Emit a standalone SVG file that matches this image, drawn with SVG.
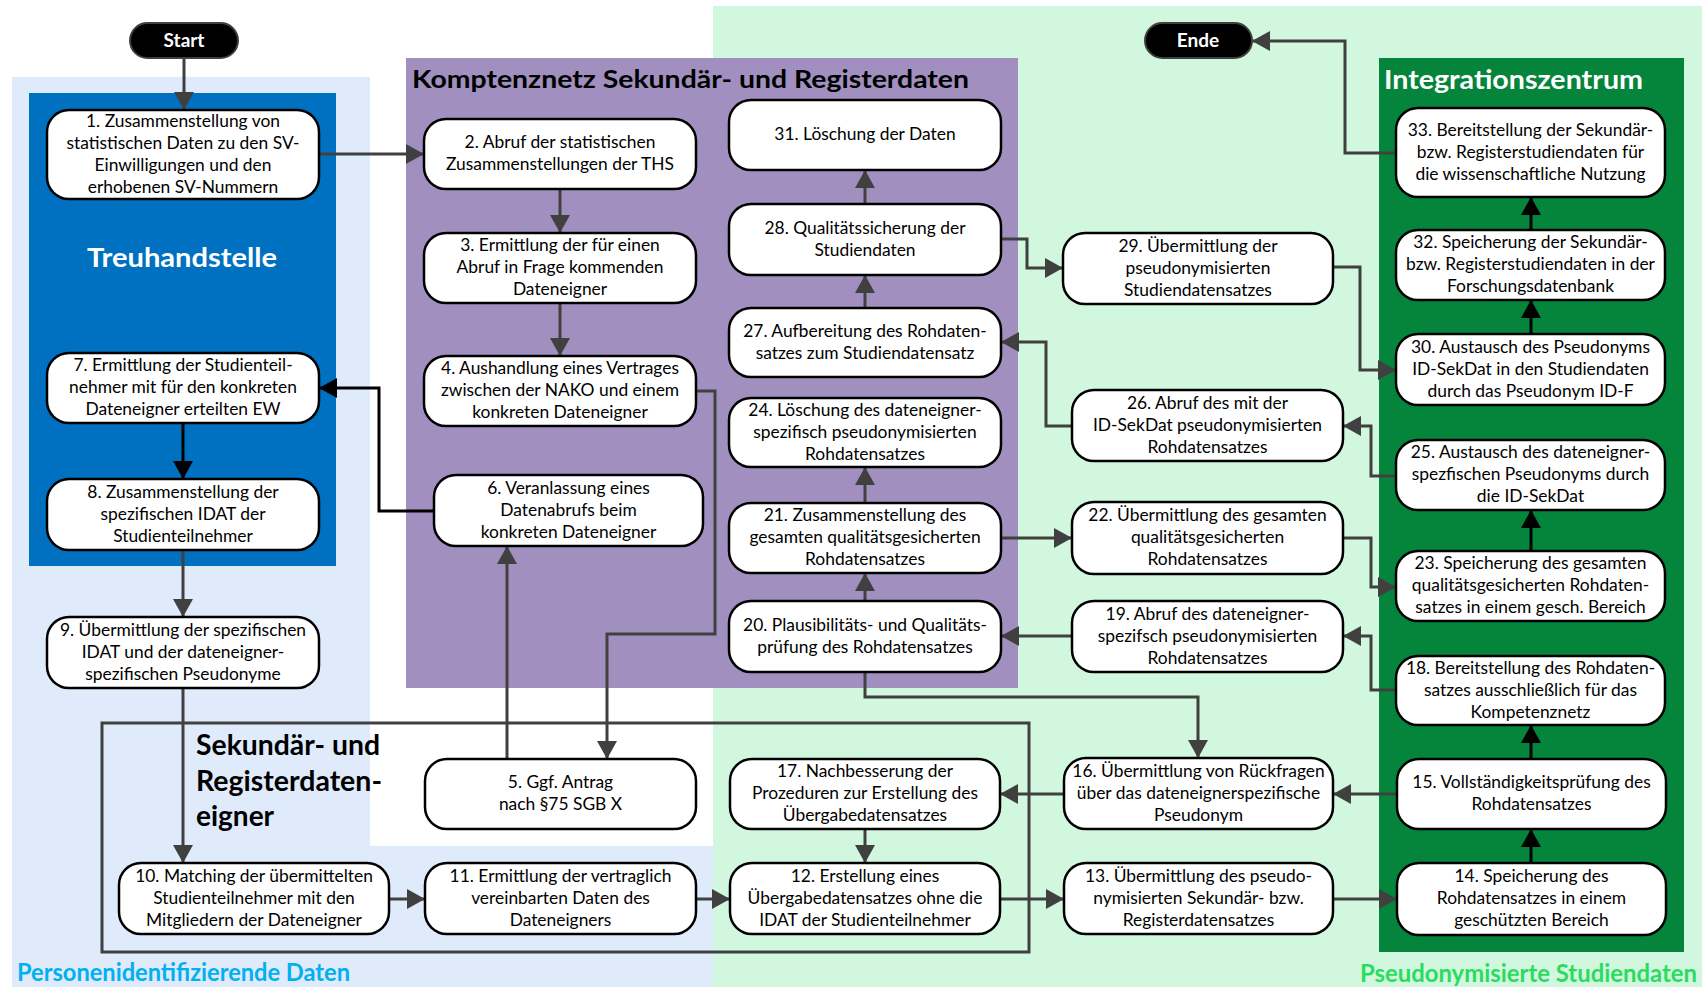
<svg xmlns="http://www.w3.org/2000/svg" width="1702" height="987" viewBox="0 0 1702 987">
<defs>
<style>
.node rect{fill:#fff;stroke:#000;stroke-width:2.5}
.node text{font-family:Lato,"Liberation Sans",sans-serif;font-size:17.4px;text-anchor:middle;fill:#000}
.pill rect{fill:#000;stroke:#404040;stroke-width:2}
.pill text{font-family:Lato,"Liberation Sans",sans-serif;font-size:19px;font-weight:bold;text-anchor:middle;fill:#fff}
.c{fill:none;stroke:#404040;stroke-width:3;marker-end:url(#ag)}
.cb{fill:none;stroke:#000;stroke-width:3;marker-end:url(#ab)}
.title{font-family:Lato,"Liberation Sans",sans-serif;font-weight:bold}
</style>
<marker id="ag" markerUnits="userSpaceOnUse" markerWidth="18" markerHeight="20" refX="18" refY="10" orient="auto"><path d="M0,0 L18,10 L0,20 z" fill="#404040"/></marker>
<marker id="ab" markerUnits="userSpaceOnUse" markerWidth="18" markerHeight="20" refX="18" refY="10" orient="auto"><path d="M0,0 L18,10 L0,20 z" fill="#000"/></marker>
</defs>
<rect x="0" y="0" width="1702" height="987" fill="#fff"/>
<g id="backgrounds">
<path d="M12,77 H370 V846 H713 V987 H12 Z" fill="#DFEAFB"/>
<rect x="713" y="6" width="989" height="981" fill="#D2F7DF"/>
<rect x="406" y="58" width="612" height="630" fill="#A190BF"/>
<rect x="29" y="93" width="307" height="473" fill="#0070C0"/>
<rect x="1379" y="58" width="305" height="894" fill="#05843C"/>
<rect x="102" y="723" width="927" height="229" fill="none" stroke="#404040" stroke-width="3"/>
</g>
<g id="labels">
<text class="title" x="412" y="88" font-size="25" fill="#000" textLength="557" lengthAdjust="spacingAndGlyphs">Komptenznetz Sekundär- und Registerdaten</text>
<text class="title" x="87" y="267" font-size="26" fill="#fff" textLength="190" lengthAdjust="spacingAndGlyphs">Treuhandstelle</text>
<text class="title" x="1384" y="89" font-size="26" fill="#fff" textLength="259" lengthAdjust="spacingAndGlyphs">Integrationszentrum</text>
<text class="title" x="196" y="755" font-size="28" fill="#000" textLength="184" lengthAdjust="spacingAndGlyphs">Sekundär- und</text>
<text class="title" x="196" y="791" font-size="28" fill="#000" textLength="186" lengthAdjust="spacingAndGlyphs">Registerdaten-</text>
<text class="title" x="196" y="826" font-size="28" fill="#000">eigner</text>
<text class="title" x="17" y="981" font-size="24" fill="#00B0F0" textLength="333" lengthAdjust="spacingAndGlyphs">Personenidentifizierende Daten</text>
<text class="title" x="1360" y="982" font-size="24" fill="#2BDB5F" textLength="337" lengthAdjust="spacingAndGlyphs">Pseudonymisierte Studiendaten</text>
</g>
<g id="connectors">
<path class="c" d="M184,58 V110"/>
<path class="c" d="M319,154 H424"/>
<path class="c" d="M560,189 V233"/>
<path class="c" d="M560,303 V356"/>
<path class="c" d="M696,391 H715 V634 H607 V759"/>
<path class="c" d="M507,759 V546"/>
<path class="cb" d="M434,511 H379 V388 H319"/>
<path class="cb" d="M183,423 V479"/>
<path class="c" d="M183,550 V617"/>
<path class="c" d="M183,688 V863"/>
<path class="c" d="M389,899 H425"/>
<path class="c" d="M696,899 H730"/>
<path class="c" d="M1000,899 H1064"/>
<path class="c" d="M1333,899 H1397"/>
<path class="cb" d="M1531,863 V829"/>
<path class="cb" d="M1531,759 V725"/>
<path class="c" d="M1397,794 H1333"/>
<path class="c" d="M1064,794 H1000"/>
<path class="c" d="M865,829 V863"/>
<path class="c" d="M1396,690 H1371 V636 H1343"/>
<path class="c" d="M1072,636 H1001"/>
<path class="c" d="M865,672 V697 H1198 V758"/>
<path class="c" d="M865,601 V573"/>
<path class="c" d="M865,503 V467"/>
<path class="c" d="M1001,538 H1072"/>
<path class="c" d="M1343,538 H1371 V587 H1396"/>
<path class="cb" d="M1531,551 V510"/>
<path class="c" d="M1396,476 H1371 V426 H1343"/>
<path class="c" d="M1072,426 H1046 V342 H1001"/>
<path class="c" d="M865,308 V275"/>
<path class="c" d="M865,204 V170"/>
<path class="c" d="M1001,239 H1027 V268 H1063"/>
<path class="c" d="M1333,267 H1360 V370 H1396"/>
<path class="cb" d="M1531,334 V300"/>
<path class="cb" d="M1531,230 V197"/>
<path class="c" d="M1396,153 H1345 V41 H1252"/>
</g>
<g id="start" class="pill"><rect x="130" y="23" width="108" height="35" rx="17.5"/><text x="184" y="47">Start</text></g>
<g id="ende" class="pill"><rect x="1145" y="23" width="107" height="35" rx="17.5"/><text x="1198" y="47">Ende</text></g>
<g id="n1" class="node"><rect x="47" y="110" width="272" height="89" rx="22"/><text><tspan x="183" y="126.5">1. Zusammenstellung von</tspan><tspan x="183" y="148.5">statistischen Daten zu den SV-</tspan><tspan x="183" y="170.5">Einwilligungen und den</tspan><tspan x="183" y="192.5">erhobenen SV-Nummern</tspan></text></g>
<g id="n7" class="node"><rect x="47" y="353" width="272" height="70" rx="22"/><text><tspan x="183" y="371">7. Ermittlung der Studienteil-</tspan><tspan x="183" y="393">nehmer mit für den konkreten</tspan><tspan x="183" y="415">Dateneigner erteilten EW</tspan></text></g>
<g id="n8" class="node"><rect x="47" y="479" width="272" height="71" rx="22"/><text><tspan x="183" y="497.5">8. Zusammenstellung der</tspan><tspan x="183" y="519.5">spezifischen IDAT der</tspan><tspan x="183" y="541.5">Studienteilnehmer</tspan></text></g>
<g id="n9" class="node"><rect x="47" y="617" width="272" height="71" rx="22"/><text><tspan x="183" y="635.5">9. Übermittlung der spezifischen</tspan><tspan x="183" y="657.5">IDAT und der dateneigner-</tspan><tspan x="183" y="679.5">spezifischen Pseudonyme</tspan></text></g>
<g id="n2" class="node"><rect x="424" y="119" width="272" height="70" rx="22"/><text><tspan x="560" y="148">2. Abruf der statistischen</tspan><tspan x="560" y="170">Zusammenstellungen der THS</tspan></text></g>
<g id="n3" class="node"><rect x="424" y="233" width="272" height="70" rx="22"/><text><tspan x="560" y="251">3. Ermittlung der für einen</tspan><tspan x="560" y="273">Abruf in Frage kommenden</tspan><tspan x="560" y="295">Dateneigner</tspan></text></g>
<g id="n4" class="node"><rect x="424" y="356" width="272" height="70" rx="22"/><text><tspan x="560" y="374">4. Aushandlung eines Vertrages</tspan><tspan x="560" y="396">zwischen der NAKO und einem</tspan><tspan x="560" y="418">konkreten Dateneigner</tspan></text></g>
<g id="n6" class="node"><rect x="434" y="475" width="269" height="71" rx="22"/><text><tspan x="568.5" y="493.5">6. Veranlassung eines</tspan><tspan x="568.5" y="515.5">Datenabrufs beim</tspan><tspan x="568.5" y="537.5">konkreten Dateneigner</tspan></text></g>
<g id="n5" class="node"><rect x="425" y="759" width="271" height="70" rx="22"/><text><tspan x="560.5" y="788">5. Ggf. Antrag</tspan><tspan x="560.5" y="810">nach §75 SGB X</tspan></text></g>
<g id="n11" class="node"><rect x="425" y="863" width="271" height="71" rx="22"/><text><tspan x="560.5" y="881.5">11. Ermittlung der vertraglich</tspan><tspan x="560.5" y="903.5">vereinbarten Daten des</tspan><tspan x="560.5" y="925.5">Dateneigners</tspan></text></g>
<g id="n10" class="node"><rect x="119" y="863" width="270" height="71" rx="22"/><text><tspan x="254" y="881.5">10. Matching der übermittelten</tspan><tspan x="254" y="903.5">Studienteilnehmer mit den</tspan><tspan x="254" y="925.5">Mitgliedern der Dateneigner</tspan></text></g>
<g id="n31" class="node"><rect x="729" y="100" width="272" height="70" rx="22"/><text><tspan x="865" y="140">31. Löschung der Daten</tspan></text></g>
<g id="n28" class="node"><rect x="729" y="204" width="272" height="71" rx="22"/><text><tspan x="865" y="233.5">28. Qualitätssicherung der</tspan><tspan x="865" y="255.5">Studiendaten</tspan></text></g>
<g id="n27" class="node"><rect x="729" y="308" width="272" height="69" rx="22"/><text><tspan x="865" y="336.5">27. Aufbereitung des Rohdaten-</tspan><tspan x="865" y="358.5">satzes zum Studiendatensatz</tspan></text></g>
<g id="n24" class="node"><rect x="729" y="398" width="272" height="69" rx="22"/><text><tspan x="865" y="415.5">24. Löschung des dateneigner-</tspan><tspan x="865" y="437.5">spezifisch pseudonymisierten</tspan><tspan x="865" y="459.5">Rohdatensatzes</tspan></text></g>
<g id="n21" class="node"><rect x="729" y="503" width="272" height="70" rx="22"/><text><tspan x="865" y="521">21. Zusammenstellung des</tspan><tspan x="865" y="543">gesamten qualitätsgesicherten</tspan><tspan x="865" y="565">Rohdatensatzes</tspan></text></g>
<g id="n20" class="node"><rect x="729" y="601" width="272" height="71" rx="22"/><text><tspan x="865" y="630.5">20. Plausibilitäts- und Qualitäts-</tspan><tspan x="865" y="652.5">prüfung des Rohdatensatzes</tspan></text></g>
<g id="n17" class="node"><rect x="730" y="759" width="270" height="70" rx="22"/><text><tspan x="865" y="777">17. Nachbesserung der</tspan><tspan x="865" y="799">Prozeduren zur Erstellung des</tspan><tspan x="865" y="821">Übergabedatensatzes</tspan></text></g>
<g id="n12" class="node"><rect x="730" y="863" width="270" height="71" rx="22"/><text><tspan x="865" y="881.5">12. Erstellung eines</tspan><tspan x="865" y="903.5">Übergabedatensatzes ohne die</tspan><tspan x="865" y="925.5">IDAT der Studienteilnehmer</tspan></text></g>
<g id="n29" class="node"><rect x="1063" y="233" width="270" height="71" rx="22"/><text><tspan x="1198" y="251.5">29. Übermittlung der</tspan><tspan x="1198" y="273.5">pseudonymisierten</tspan><tspan x="1198" y="295.5">Studiendatensatzes</tspan></text></g>
<g id="n26" class="node"><rect x="1072" y="390" width="271" height="71" rx="22"/><text><tspan x="1207.5" y="408.5">26. Abruf des mit der</tspan><tspan x="1207.5" y="430.5">ID-SekDat pseudonymisierten</tspan><tspan x="1207.5" y="452.5">Rohdatensatzes</tspan></text></g>
<g id="n22" class="node"><rect x="1072" y="502" width="271" height="72" rx="22"/><text><tspan x="1207.5" y="521">22. Übermittlung des gesamten</tspan><tspan x="1207.5" y="543">qualitätsgesicherten</tspan><tspan x="1207.5" y="565">Rohdatensatzes</tspan></text></g>
<g id="n19" class="node"><rect x="1072" y="601" width="271" height="71" rx="22"/><text><tspan x="1207.5" y="619.5">19. Abruf des dateneigner-</tspan><tspan x="1207.5" y="641.5">spezifsch pseudonymisierten</tspan><tspan x="1207.5" y="663.5">Rohdatensatzes</tspan></text></g>
<g id="n16" class="node"><rect x="1064" y="758" width="269" height="71" rx="22"/><text><tspan x="1198.5" y="776.5">16. Übermittlung von Rückfragen</tspan><tspan x="1198.5" y="798.5">über das dateneignerspezifische</tspan><tspan x="1198.5" y="820.5">Pseudonym</tspan></text></g>
<g id="n13" class="node"><rect x="1064" y="863" width="269" height="71" rx="22"/><text><tspan x="1198.5" y="881.5">13. Übermittlung des pseudo-</tspan><tspan x="1198.5" y="903.5">nymisierten Sekundär- bzw.</tspan><tspan x="1198.5" y="925.5">Registerdatensatzes</tspan></text></g>
<g id="n33" class="node"><rect x="1396" y="108" width="269" height="89" rx="22"/><text><tspan x="1530.5" y="135.5">33. Bereitstellung der Sekundär-</tspan><tspan x="1530.5" y="157.5">bzw. Registerstudiendaten für</tspan><tspan x="1530.5" y="179.5">die wissenschaftliche Nutzung</tspan></text></g>
<g id="n32" class="node"><rect x="1396" y="230" width="269" height="70" rx="22"/><text><tspan x="1530.5" y="248">32. Speicherung der Sekundär-</tspan><tspan x="1530.5" y="270">bzw. Registerstudiendaten in der</tspan><tspan x="1530.5" y="292">Forschungsdatenbank</tspan></text></g>
<g id="n30" class="node"><rect x="1396" y="334" width="269" height="71" rx="22"/><text><tspan x="1530.5" y="352.5">30. Austausch des Pseudonyms</tspan><tspan x="1530.5" y="374.5">ID-SekDat in den Studiendaten</tspan><tspan x="1530.5" y="396.5">durch das Pseudonym ID-F</tspan></text></g>
<g id="n25" class="node"><rect x="1396" y="440" width="269" height="70" rx="22"/><text><tspan x="1530.5" y="458">25. Austausch des dateneigner-</tspan><tspan x="1530.5" y="480">spezfischen Pseudonyms durch</tspan><tspan x="1530.5" y="502">die ID-SekDat</tspan></text></g>
<g id="n23" class="node"><rect x="1396" y="551" width="269" height="70" rx="22"/><text><tspan x="1530.5" y="569">23. Speicherung des gesamten</tspan><tspan x="1530.5" y="591">qualitätsgesicherten Rohdaten-</tspan><tspan x="1530.5" y="613">satzes in einem gesch. Bereich</tspan></text></g>
<g id="n18" class="node"><rect x="1396" y="656" width="269" height="69" rx="22"/><text><tspan x="1530.5" y="673.5">18. Bereitstellung des Rohdaten-</tspan><tspan x="1530.5" y="695.5">satzes ausschließlich für das</tspan><tspan x="1530.5" y="717.5">Kompetenznetz</tspan></text></g>
<g id="n15" class="node"><rect x="1397" y="759" width="269" height="70" rx="22"/><text><tspan x="1531.5" y="788">15. Vollständigkeitsprüfung des</tspan><tspan x="1531.5" y="810">Rohdatensatzes</tspan></text></g>
<g id="n14" class="node"><rect x="1397" y="863" width="269" height="72" rx="22"/><text><tspan x="1531.5" y="882">14. Speicherung des</tspan><tspan x="1531.5" y="904">Rohdatensatzes in einem</tspan><tspan x="1531.5" y="926">geschützten Bereich</tspan></text></g>
</svg>
